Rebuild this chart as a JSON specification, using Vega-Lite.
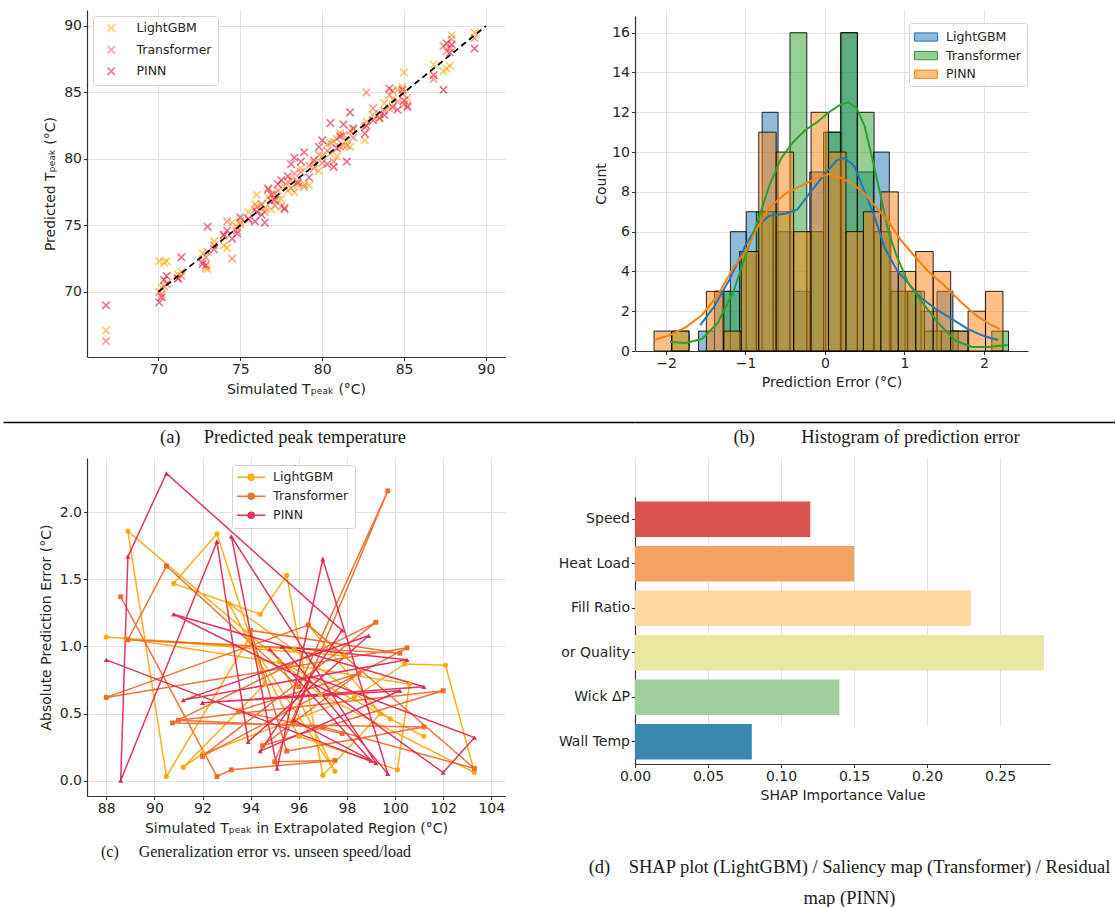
{
  "$schema": "https://vega.github.io/schema/vega-lite/v6.json",
  "background": "white",
  "padding": {"left": 39, "top": 10, "right": 0, "bottom": 0},
  "config": {
    "view": {"stroke": null},
    "font": "DejaVu Sans",
    "axis": {"labelFont": "DejaVu Sans", "titleFont": "DejaVu Sans", "labelFontSize": 14, "titleFontSize": 14, "titleFontWeight": "normal", "labelColor": "#262626", "titleColor": "#262626", "domainColor": "#333333", "domainWidth": 1.2, "tickColor": "#333333", "tickSize": 3.5, "tickWidth": 1, "gridColor": "#e2e2e2", "gridWidth": 1, "labelPadding": 1.5, "titlePadding": 6, "labelFlush": false},
    "legend": {"labelFont": "DejaVu Sans", "labelFontSize": 12.5, "labelColor": "#262626"},
    "title": {"font": "Liberation Serif", "fontSize": 18.5, "fontWeight": "normal", "color": "#1a1a1a"}
  },
  "datasets": {
    "scatter": [
      {"m":"LightGBM","s":66.8,"p":67.1},{"m":"LightGBM","s":70.05,"p":72.3},{"m":"LightGBM","s":70.2,"p":70.3},{"m":"LightGBM","s":70.35,"p":72.2},{"m":"LightGBM","s":70.5,"p":72.3},{"m":"LightGBM","s":71.2,"p":71.3},{"m":"LightGBM","s":71.4,"p":71.5},{"m":"LightGBM","s":72.7,"p":72.9},{"m":"LightGBM","s":72.9,"p":71.8},{"m":"LightGBM","s":73.0,"p":71.7},{"m":"LightGBM","s":73.4,"p":73.8},{"m":"LightGBM","s":74.0,"p":73.5},{"m":"LightGBM","s":74.2,"p":73.3},{"m":"LightGBM","s":74.5,"p":75.2},{"m":"LightGBM","s":74.8,"p":74.9},{"m":"LightGBM","s":75.0,"p":75.3},{"m":"LightGBM","s":75.5,"p":76.0},{"m":"LightGBM","s":75.9,"p":76.6},{"m":"LightGBM","s":76.0,"p":77.3},{"m":"LightGBM","s":76.3,"p":76.5},{"m":"LightGBM","s":76.5,"p":76.3},{"m":"LightGBM","s":76.7,"p":77.1},{"m":"LightGBM","s":76.9,"p":76.2},{"m":"LightGBM","s":77.1,"p":77.4},{"m":"LightGBM","s":77.3,"p":76.9},{"m":"LightGBM","s":77.5,"p":77.0},{"m":"LightGBM","s":77.7,"p":77.9},{"m":"LightGBM","s":77.9,"p":77.6},{"m":"LightGBM","s":78.1,"p":78.4},{"m":"LightGBM","s":78.3,"p":77.5},{"m":"LightGBM","s":78.5,"p":78.0},{"m":"LightGBM","s":78.7,"p":79.3},{"m":"LightGBM","s":78.9,"p":78.1},{"m":"LightGBM","s":79.2,"p":78.0},{"m":"LightGBM","s":79.5,"p":79.7},{"m":"LightGBM","s":79.8,"p":79.1},{"m":"LightGBM","s":80.0,"p":80.2},{"m":"LightGBM","s":80.3,"p":81.1},{"m":"LightGBM","s":80.5,"p":80.4},{"m":"LightGBM","s":80.7,"p":81.3},{"m":"LightGBM","s":80.9,"p":80.2},{"m":"LightGBM","s":81.1,"p":81.9},{"m":"LightGBM","s":81.3,"p":81.0},{"m":"LightGBM","s":81.5,"p":81.4},{"m":"LightGBM","s":81.7,"p":80.9},{"m":"LightGBM","s":81.9,"p":82.2},{"m":"LightGBM","s":82.6,"p":81.4},{"m":"LightGBM","s":82.7,"p":82.8},{"m":"LightGBM","s":83.1,"p":83.3},{"m":"LightGBM","s":83.5,"p":83.0},{"m":"LightGBM","s":83.8,"p":84.2},{"m":"LightGBM","s":84.1,"p":83.8},{"m":"LightGBM","s":84.3,"p":84.5},{"m":"LightGBM","s":84.6,"p":85.2},{"m":"LightGBM","s":84.9,"p":85.4},{"m":"LightGBM","s":85.0,"p":86.5},{"m":"LightGBM","s":85.2,"p":84.6},{"m":"LightGBM","s":86.8,"p":87.1},{"m":"LightGBM","s":87.4,"p":86.6},{"m":"LightGBM","s":87.6,"p":86.8},{"m":"LightGBM","s":87.8,"p":87.0},{"m":"LightGBM","s":87.9,"p":89.3},{"m":"LightGBM","s":89.3,"p":89.5},
      {"m":"Transformer","s":66.8,"p":66.3},{"m":"Transformer","s":70.05,"p":70.0},{"m":"Transformer","s":70.2,"p":69.8},{"m":"Transformer","s":70.35,"p":70.4},{"m":"Transformer","s":70.5,"p":70.6},{"m":"Transformer","s":71.2,"p":71.0},{"m":"Transformer","s":71.4,"p":71.2},{"m":"Transformer","s":72.7,"p":72.3},{"m":"Transformer","s":72.9,"p":72.6},{"m":"Transformer","s":73.0,"p":73.0},{"m":"Transformer","s":73.4,"p":73.5},{"m":"Transformer","s":74.0,"p":74.2},{"m":"Transformer","s":74.2,"p":75.3},{"m":"Transformer","s":74.5,"p":72.5},{"m":"Transformer","s":74.8,"p":74.6},{"m":"Transformer","s":75.0,"p":75.1},{"m":"Transformer","s":75.5,"p":75.4},{"m":"Transformer","s":75.9,"p":76.2},{"m":"Transformer","s":76.0,"p":76.4},{"m":"Transformer","s":76.3,"p":76.6},{"m":"Transformer","s":76.5,"p":76.0},{"m":"Transformer","s":76.7,"p":77.8},{"m":"Transformer","s":76.9,"p":76.8},{"m":"Transformer","s":77.1,"p":76.5},{"m":"Transformer","s":77.3,"p":77.6},{"m":"Transformer","s":77.5,"p":76.4},{"m":"Transformer","s":77.7,"p":76.2},{"m":"Transformer","s":77.9,"p":78.3},{"m":"Transformer","s":78.1,"p":77.8},{"m":"Transformer","s":78.3,"p":78.9},{"m":"Transformer","s":78.5,"p":78.3},{"m":"Transformer","s":78.7,"p":79.0},{"m":"Transformer","s":78.9,"p":77.9},{"m":"Transformer","s":79.2,"p":79.5},{"m":"Transformer","s":79.5,"p":79.3},{"m":"Transformer","s":79.8,"p":80.3},{"m":"Transformer","s":80.0,"p":79.7},{"m":"Transformer","s":80.3,"p":80.6},{"m":"Transformer","s":80.5,"p":81.2},{"m":"Transformer","s":80.7,"p":79.8},{"m":"Transformer","s":80.9,"p":81.5},{"m":"Transformer","s":81.1,"p":80.9},{"m":"Transformer","s":81.3,"p":81.8},{"m":"Transformer","s":81.5,"p":81.0},{"m":"Transformer","s":81.7,"p":82.1},{"m":"Transformer","s":81.9,"p":81.6},{"m":"Transformer","s":82.6,"p":82.4},{"m":"Transformer","s":82.7,"p":85.0},{"m":"Transformer","s":83.1,"p":83.8},{"m":"Transformer","s":83.5,"p":83.4},{"m":"Transformer","s":83.8,"p":83.6},{"m":"Transformer","s":84.1,"p":84.8},{"m":"Transformer","s":84.3,"p":85.1},{"m":"Transformer","s":84.6,"p":84.3},{"m":"Transformer","s":84.9,"p":84.9},{"m":"Transformer","s":85.0,"p":84.1},{"m":"Transformer","s":85.2,"p":84.0},{"m":"Transformer","s":86.8,"p":86.0},{"m":"Transformer","s":87.4,"p":88.5},{"m":"Transformer","s":87.6,"p":88.1},{"m":"Transformer","s":87.8,"p":88.3},{"m":"Transformer","s":87.9,"p":89.0},{"m":"Transformer","s":89.3,"p":89.1},
      {"m":"PINN","s":66.8,"p":69.0},{"m":"PINN","s":70.05,"p":69.2},{"m":"PINN","s":70.2,"p":69.6},{"m":"PINN","s":70.35,"p":70.9},{"m":"PINN","s":70.5,"p":71.2},{"m":"PINN","s":71.2,"p":71.0},{"m":"PINN","s":71.4,"p":72.6},{"m":"PINN","s":72.7,"p":72.1},{"m":"PINN","s":72.9,"p":72.0},{"m":"PINN","s":73.0,"p":74.9},{"m":"PINN","s":73.4,"p":73.2},{"m":"PINN","s":74.0,"p":74.3},{"m":"PINN","s":74.2,"p":74.6},{"m":"PINN","s":74.5,"p":74.0},{"m":"PINN","s":74.8,"p":74.4},{"m":"PINN","s":75.0,"p":75.6},{"m":"PINN","s":75.5,"p":75.5},{"m":"PINN","s":75.9,"p":75.3},{"m":"PINN","s":76.0,"p":76.0},{"m":"PINN","s":76.3,"p":75.8},{"m":"PINN","s":76.5,"p":75.2},{"m":"PINN","s":76.7,"p":77.7},{"m":"PINN","s":76.9,"p":77.3},{"m":"PINN","s":77.1,"p":76.9},{"m":"PINN","s":77.3,"p":78.1},{"m":"PINN","s":77.5,"p":78.4},{"m":"PINN","s":77.7,"p":76.3},{"m":"PINN","s":77.9,"p":78.7},{"m":"PINN","s":78.1,"p":79.6},{"m":"PINN","s":78.3,"p":80.1},{"m":"PINN","s":78.5,"p":78.2},{"m":"PINN","s":78.7,"p":79.8},{"m":"PINN","s":78.9,"p":80.5},{"m":"PINN","s":79.2,"p":78.6},{"m":"PINN","s":79.5,"p":79.9},{"m":"PINN","s":79.8,"p":80.9},{"m":"PINN","s":80.0,"p":81.4},{"m":"PINN","s":80.3,"p":79.6},{"m":"PINN","s":80.5,"p":82.7},{"m":"PINN","s":80.7,"p":79.4},{"m":"PINN","s":80.9,"p":80.8},{"m":"PINN","s":81.1,"p":81.7},{"m":"PINN","s":81.3,"p":82.6},{"m":"PINN","s":81.5,"p":79.8},{"m":"PINN","s":81.7,"p":83.5},{"m":"PINN","s":81.9,"p":82.3},{"m":"PINN","s":82.6,"p":81.9},{"m":"PINN","s":82.7,"p":82.5},{"m":"PINN","s":83.1,"p":82.9},{"m":"PINN","s":83.5,"p":83.1},{"m":"PINN","s":83.8,"p":83.3},{"m":"PINN","s":84.1,"p":85.3},{"m":"PINN","s":84.3,"p":83.9},{"m":"PINN","s":84.6,"p":83.7},{"m":"PINN","s":84.9,"p":85.2},{"m":"PINN","s":85.0,"p":84.4},{"m":"PINN","s":85.2,"p":83.9},{"m":"PINN","s":86.8,"p":86.3},{"m":"PINN","s":87.4,"p":85.2},{"m":"PINN","s":87.6,"p":88.7},{"m":"PINN","s":87.8,"p":88.0},{"m":"PINN","s":87.9,"p":88.6},{"m":"PINN","s":89.3,"p":88.3}
    ],
    "diag": [{"s":70,"p":70},{"s":90,"p":90}],
    "hist": [
      {"m":"LightGBM","x0":-1.59,"x1":-1.39,"c":1},{"m":"LightGBM","x0":-1.39,"x1":-1.19,"c":3},{"m":"LightGBM","x0":-1.19,"x1":-0.99,"c":6},{"m":"LightGBM","x0":-0.99,"x1":-0.79,"c":7},{"m":"LightGBM","x0":-0.79,"x1":-0.59,"c":12},{"m":"LightGBM","x0":-0.59,"x1":-0.39,"c":6},{"m":"LightGBM","x0":-0.39,"x1":-0.19,"c":3},{"m":"LightGBM","x0":-0.19,"x1":0.01,"c":9},{"m":"LightGBM","x0":0.01,"x1":0.21,"c":11},{"m":"LightGBM","x0":0.21,"x1":0.41,"c":16},{"m":"LightGBM","x0":0.41,"x1":0.61,"c":9},{"m":"LightGBM","x0":0.61,"x1":0.81,"c":10},{"m":"LightGBM","x0":0.81,"x1":1.01,"c":4},{"m":"LightGBM","x0":1.01,"x1":1.21,"c":3},{"m":"LightGBM","x0":1.21,"x1":1.41,"c":2},{"m":"LightGBM","x0":1.41,"x1":1.61,"c":3},{"m":"LightGBM","x0":1.61,"x1":1.81,"c":1},
      {"m":"Transformer","x0":-1.92,"x1":-1.709,"c":1},{"m":"Transformer","x0":-1.286,"x1":-1.074,"c":3},{"m":"Transformer","x0":-1.074,"x1":-0.863,"c":5},{"m":"Transformer","x0":-0.863,"x1":-0.651,"c":7},{"m":"Transformer","x0":-0.651,"x1":-0.44,"c":7},{"m":"Transformer","x0":-0.44,"x1":-0.228,"c":16},{"m":"Transformer","x0":-0.228,"x1":-0.017,"c":6},{"m":"Transformer","x0":-0.017,"x1":0.195,"c":11},{"m":"Transformer","x0":0.195,"x1":0.407,"c":16},{"m":"Transformer","x0":0.407,"x1":0.618,"c":12},{"m":"Transformer","x0":0.618,"x1":0.83,"c":6},{"m":"Transformer","x0":0.83,"x1":1.041,"c":3},{"m":"Transformer","x0":1.041,"x1":1.253,"c":3},{"m":"Transformer","x0":1.253,"x1":1.464,"c":1},{"m":"Transformer","x0":1.464,"x1":1.676,"c":1},{"m":"Transformer","x0":2.099,"x1":2.31,"c":1},
      {"m":"PINN","x0":-2.15,"x1":-1.931,"c":1},{"m":"PINN","x0":-1.931,"x1":-1.711,"c":1},{"m":"PINN","x0":-1.492,"x1":-1.272,"c":3},{"m":"PINN","x0":-1.272,"x1":-1.053,"c":1},{"m":"PINN","x0":-1.053,"x1":-0.833,"c":5},{"m":"PINN","x0":-0.833,"x1":-0.614,"c":11},{"m":"PINN","x0":-0.614,"x1":-0.394,"c":10},{"m":"PINN","x0":-0.394,"x1":-0.175,"c":6},{"m":"PINN","x0":-0.175,"x1":0.045,"c":12},{"m":"PINN","x0":0.045,"x1":0.265,"c":10},{"m":"PINN","x0":0.265,"x1":0.484,"c":6},{"m":"PINN","x0":0.484,"x1":0.704,"c":7},{"m":"PINN","x0":0.704,"x1":0.923,"c":8},{"m":"PINN","x0":0.923,"x1":1.143,"c":4},{"m":"PINN","x0":1.143,"x1":1.362,"c":5},{"m":"PINN","x0":1.362,"x1":1.582,"c":4},{"m":"PINN","x0":1.582,"x1":1.801,"c":1},{"m":"PINN","x0":1.801,"x1":2.021,"c":2},{"m":"PINN","x0":2.021,"x1":2.24,"c":3}
    ],
    "kde": [
      {"m":"LightGBM","x":-1.57,"y":1.3},{"m":"LightGBM","x":-1.4,"y":2.2},{"m":"LightGBM","x":-1.2,"y":3.6},{"m":"LightGBM","x":-1.0,"y":5.3},{"m":"LightGBM","x":-0.85,"y":6.3},{"m":"LightGBM","x":-0.7,"y":6.8},{"m":"LightGBM","x":-0.5,"y":6.9},{"m":"LightGBM","x":-0.35,"y":7.1},{"m":"LightGBM","x":-0.2,"y":7.9},{"m":"LightGBM","x":0.0,"y":8.9},{"m":"LightGBM","x":0.15,"y":9.6},{"m":"LightGBM","x":0.25,"y":9.7},{"m":"LightGBM","x":0.37,"y":9.3},{"m":"LightGBM","x":0.5,"y":8.0},{"m":"LightGBM","x":0.62,"y":6.8},{"m":"LightGBM","x":0.75,"y":5.2},{"m":"LightGBM","x":0.9,"y":4.1},{"m":"LightGBM","x":1.05,"y":3.4},{"m":"LightGBM","x":1.2,"y":2.7},{"m":"LightGBM","x":1.4,"y":2.1},{"m":"LightGBM","x":1.6,"y":1.6},{"m":"LightGBM","x":1.8,"y":1.1},{"m":"LightGBM","x":2.0,"y":0.75},{"m":"LightGBM","x":2.18,"y":0.55},
      {"m":"Transformer","x":-1.95,"y":0.45},{"m":"Transformer","x":-1.75,"y":0.4},{"m":"Transformer","x":-1.55,"y":0.6},{"m":"Transformer","x":-1.35,"y":1.4},{"m":"Transformer","x":-1.15,"y":3.0},{"m":"Transformer","x":-1.0,"y":4.8},{"m":"Transformer","x":-0.85,"y":6.5},{"m":"Transformer","x":-0.7,"y":8.3},{"m":"Transformer","x":-0.55,"y":9.7},{"m":"Transformer","x":-0.4,"y":10.5},{"m":"Transformer","x":-0.25,"y":11.1},{"m":"Transformer","x":-0.1,"y":11.5},{"m":"Transformer","x":0.05,"y":12.0},{"m":"Transformer","x":0.2,"y":12.4},{"m":"Transformer","x":0.3,"y":12.5},{"m":"Transformer","x":0.4,"y":12.2},{"m":"Transformer","x":0.5,"y":11.3},{"m":"Transformer","x":0.6,"y":9.6},{"m":"Transformer","x":0.7,"y":7.8},{"m":"Transformer","x":0.8,"y":6.0},{"m":"Transformer","x":0.9,"y":4.8},{"m":"Transformer","x":1.05,"y":3.4},{"m":"Transformer","x":1.25,"y":2.3},{"m":"Transformer","x":1.45,"y":1.3},{"m":"Transformer","x":1.65,"y":0.5},{"m":"Transformer","x":1.85,"y":0.2},{"m":"Transformer","x":2.05,"y":0.2},{"m":"Transformer","x":2.3,"y":0.3},
      {"m":"PINN","x":-2.15,"y":0.55},{"m":"PINN","x":-1.95,"y":0.8},{"m":"PINN","x":-1.75,"y":1.2},{"m":"PINN","x":-1.55,"y":1.8},{"m":"PINN","x":-1.35,"y":2.8},{"m":"PINN","x":-1.15,"y":4.2},{"m":"PINN","x":-1.0,"y":5.0},{"m":"PINN","x":-0.85,"y":6.2},{"m":"PINN","x":-0.7,"y":7.2},{"m":"PINN","x":-0.5,"y":7.9},{"m":"PINN","x":-0.3,"y":8.3},{"m":"PINN","x":-0.1,"y":8.7},{"m":"PINN","x":0.05,"y":8.9},{"m":"PINN","x":0.2,"y":8.7},{"m":"PINN","x":0.35,"y":8.4},{"m":"PINN","x":0.5,"y":7.9},{"m":"PINN","x":0.65,"y":7.2},{"m":"PINN","x":0.8,"y":6.5},{"m":"PINN","x":0.95,"y":5.6},{"m":"PINN","x":1.1,"y":4.9},{"m":"PINN","x":1.3,"y":4.0},{"m":"PINN","x":1.5,"y":3.3},{"m":"PINN","x":1.7,"y":2.5},{"m":"PINN","x":1.9,"y":1.8},{"m":"PINN","x":2.05,"y":1.4},{"m":"PINN","x":2.2,"y":1.1}
    ],
    "gen": [
      {"m":"LightGBM","i":1,"x":88.0,"y":1.07},{"m":"LightGBM","i":2,"x":97.9,"y":0.93},{"m":"LightGBM","i":3,"x":96.4,"y":1.16},{"m":"LightGBM","i":4,"x":99.4,"y":0.5},{"m":"LightGBM","i":5,"x":97.0,"y":0.04},{"m":"LightGBM","i":6,"x":95.5,"y":1.53},{"m":"LightGBM","i":7,"x":94.4,"y":1.24},{"m":"LightGBM","i":8,"x":90.8,"y":1.47},{"m":"LightGBM","i":9,"x":92.6,"y":1.84},{"m":"LightGBM","i":10,"x":94.6,"y":0.72},{"m":"LightGBM","i":11,"x":91.2,"y":0.1},{"m":"LightGBM","i":12,"x":92.0,"y":0.2},{"m":"LightGBM","i":13,"x":98.3,"y":0.62},{"m":"LightGBM","i":14,"x":100.4,"y":0.87},{"m":"LightGBM","i":15,"x":102.1,"y":0.86},{"m":"LightGBM","i":16,"x":103.3,"y":0.06},{"m":"LightGBM","i":17,"x":96.9,"y":0.64},{"m":"LightGBM","i":18,"x":88.9,"y":1.86},{"m":"LightGBM","i":19,"x":90.5,"y":0.03},{"m":"LightGBM","i":20,"x":93.9,"y":1.05},{"m":"LightGBM","i":21,"x":97.5,"y":0.07},{"m":"LightGBM","i":22,"x":95.2,"y":0.89},{"m":"LightGBM","i":23,"x":101.2,"y":0.33},{"m":"LightGBM","i":24,"x":99.8,"y":0.46},{"m":"LightGBM","i":25,"x":93.1,"y":1.32},{"m":"LightGBM","i":26,"x":96.0,"y":0.33},{"m":"LightGBM","i":27,"x":100.1,"y":0.08},{"m":"LightGBM","i":28,"x":100.6,"y":0.72},{"m":"LightGBM","i":29,"x":88.8,"y":1.06},{"m":"LightGBM","i":30,"x":95.8,"y":0.98},
      {"m":"Transformer","i":1,"x":88.6,"y":1.37},{"m":"Transformer","i":2,"x":92.6,"y":0.03},{"m":"Transformer","i":3,"x":93.2,"y":0.08},{"m":"Transformer","i":4,"x":97.5,"y":0.15},{"m":"Transformer","i":5,"x":95.0,"y":0.14},{"m":"Transformer","i":6,"x":99.7,"y":2.16},{"m":"Transformer","i":7,"x":96.0,"y":0.7},{"m":"Transformer","i":8,"x":90.5,"y":1.6},{"m":"Transformer","i":9,"x":88.9,"y":1.05},{"m":"Transformer","i":10,"x":100.2,"y":0.95},{"m":"Transformer","i":11,"x":94.0,"y":1.12},{"m":"Transformer","i":12,"x":95.5,"y":0.22},{"m":"Transformer","i":13,"x":101.2,"y":0.4},{"m":"Transformer","i":14,"x":90.75,"y":0.43},{"m":"Transformer","i":15,"x":99.2,"y":1.18},{"m":"Transformer","i":16,"x":92.0,"y":0.18},{"m":"Transformer","i":17,"x":100.5,"y":0.99},{"m":"Transformer","i":18,"x":88.0,"y":0.62},{"m":"Transformer","i":19,"x":96.4,"y":1.16},{"m":"Transformer","i":20,"x":103.3,"y":0.09},{"m":"Transformer","i":21,"x":97.0,"y":0.4},{"m":"Transformer","i":22,"x":91.0,"y":0.45},{"m":"Transformer","i":23,"x":102.0,"y":0.67},{"m":"Transformer","i":24,"x":94.5,"y":0.26},{"m":"Transformer","i":25,"x":98.5,"y":0.8},{"m":"Transformer","i":26,"x":93.5,"y":0.52},{"m":"Transformer","i":27,"x":97.8,"y":0.35},
      {"m":"PINN","i":1,"x":88.0,"y":0.9},{"m":"PINN","i":2,"x":99.2,"y":0.13},{"m":"PINN","i":3,"x":93.2,"y":1.82},{"m":"PINN","i":4,"x":95.1,"y":0.09},{"m":"PINN","i":5,"x":97.0,"y":1.65},{"m":"PINN","i":6,"x":99.7,"y":0.05},{"m":"PINN","i":7,"x":95.3,"y":1.0},{"m":"PINN","i":8,"x":100.5,"y":0.9},{"m":"PINN","i":9,"x":91.2,"y":0.6},{"m":"PINN","i":10,"x":98.9,"y":1.08},{"m":"PINN","i":11,"x":93.9,"y":0.29},{"m":"PINN","i":12,"x":92.6,"y":1.78},{"m":"PINN","i":13,"x":88.6,"y":0.0},{"m":"PINN","i":14,"x":88.9,"y":1.67},{"m":"PINN","i":15,"x":90.5,"y":2.29},{"m":"PINN","i":16,"x":97.8,"y":1.12},{"m":"PINN","i":17,"x":94.4,"y":0.22},{"m":"PINN","i":18,"x":100.2,"y":0.67},{"m":"PINN","i":19,"x":92.0,"y":0.58},{"m":"PINN","i":20,"x":101.2,"y":0.7},{"m":"PINN","i":21,"x":90.8,"y":1.24},{"m":"PINN","i":22,"x":97.5,"y":0.64},{"m":"PINN","i":23,"x":102.0,"y":0.06},{"m":"PINN","i":24,"x":103.3,"y":0.32},{"m":"PINN","i":25,"x":96.5,"y":0.78},{"m":"PINN","i":26,"x":95.8,"y":0.45},{"m":"PINN","i":27,"x":99.0,"y":0.15},{"m":"PINN","i":28,"x":94.8,"y":0.98}
    ],
    "shap": [
      {"f":"Speed","v":0.12},{"f":"Heat Load","v":0.15},{"f":"Fill Ratio","v":0.23},{"f":"or Quality","v":0.28},{"f":"Wick ΔP","v":0.14},{"f":"Wall Temp","v":0.08}
    ],
    "ln": [{"v":0.5}]
  },
  "columns": 2,
  "align": "each",
  "bounds": "flush",
  "spacing": {"row": 36, "column": 130},
  "resolve": {
    "scale": {"x": "independent", "y": "independent", "color": "independent", "fill": "independent", "stroke": "independent"},
    "legend": {"color": "independent", "fill": "independent", "stroke": "independent"}
  },
  "concat": [
    {
      "width": 418, "height": 347,
      "layer": [
        {
          "data": {"name": "scatter"},
          "mark": {"type": "point", "shape": "M-1,-1L1,1M-1,1L1,-1", "filled": false, "strokeWidth": 1.6, "opacity": 0.6, "size": 55},
          "encoding": {
            "x": {"field": "s", "type": "quantitative", "title": "Simulated Tₚₑₐₖ (°C)", "scale": {"domain": [65.64, 91.16], "nice": false, "zero": false}, "axis": {"values": [70, 75, 80, 85, 90]}},
            "y": {"field": "p", "type": "quantitative", "title": "Predicted Tₚₑₐₖ (°C)", "scale": {"domain": [65.1, 91.2], "nice": false, "zero": false}, "axis": {"values": [70, 75, 80, 85, 90], "labelPadding": 2}},
            "color": {"field": "m", "type": "nominal", "scale": {"domain": ["LightGBM", "Transformer", "PINN"], "range": ["#FFA500", "#FF6347", "#DC143C"]},
              "legend": {"title": null, "orient": "top-left", "offset": 6, "padding": 6, "fillColor": "white", "strokeColor": "#d3d3d3", "cornerRadius": 3, "symbolType": "M-1,-1L1,1M-1,1L1,-1", "symbolSize": 55, "symbolStrokeWidth": 1.6, "symbolOffset": 6, "labelOffset": 19, "rowPadding": 6.5, "labelFontSize": 12.5}}
          }
        },
        {
          "data": {"name": "diag"},
          "mark": {"type": "line", "color": "black", "strokeDash": [6, 4], "strokeWidth": 1.8},
          "encoding": {
            "x": {"field": "s", "type": "quantitative", "title": "Simulated Tₚₑₐₖ (°C)"},
            "y": {"field": "p", "type": "quantitative", "title": "Predicted Tₚₑₐₖ (°C)"}
          }
        }
      ]
    },
    {
      "width": 393, "height": 341,
      "layer": [
        {
          "data": {"name": "hist"},
          "mark": {"type": "rect", "fillOpacity": 0.5, "stroke": "black", "strokeWidth": 1, "strokeOpacity": 0.85},
          "encoding": {
            "x": {"field": "x0", "type": "quantitative", "title": "Prediction Error (°C)", "scale": {"domain": [-2.39, 2.555], "nice": false, "zero": false}, "axis": {"values": [-2, -1, 0, 1, 2], "format": "d", "titlePadding": 5}},
            "x2": {"field": "x1"},
            "y": {"field": "c", "type": "quantitative", "title": "Count", "scale": {"domain": [0, 16.84], "nice": false, "range": [341, 6]}, "axis": {"values": [0, 2, 4, 6, 8, 10, 12, 14, 16], "titlePadding": 3, "labelPadding": 2}},
            "y2": {"datum": 0},
            "fill": {"field": "m", "type": "nominal", "scale": {"domain": ["LightGBM", "Transformer", "PINN"], "range": ["#1f77b4", "#2ca02c", "#ff7f0e"]},
              "legend": {"title": null, "orient": "none", "legendX": 274, "legendY": 13, "padding": 5, "fillColor": "white", "strokeColor": "#d3d3d3", "cornerRadius": 3, "symbolType": "M-1.4,-0.5H1.4V0.5H-1.4Z", "symbolSize": 269, "symbolOffset": 3, "labelOffset": 11, "rowPadding": 2.6, "labelFontSize": 12.5, "symbolStrokeColor": "black", "symbolStrokeWidth": 1,
                "encode": {"symbols": {"update": {"fillOpacity": {"value": 0.5}, "stroke": {"value": "black"}, "strokeWidth": {"value": 1}}}}}}
          }
        },
        {
          "data": {"name": "kde"},
          "mark": {"type": "line", "strokeWidth": 2},
          "encoding": {
            "x": {"field": "x", "type": "quantitative", "title": "Prediction Error (°C)"},
            "y": {"field": "y", "type": "quantitative", "title": "Count"},
            "stroke": {"field": "m", "type": "nominal", "scale": {"domain": ["LightGBM", "Transformer", "PINN"], "range": ["#1f77b4", "#2ca02c", "#ff7f0e"]}, "legend": null}
          }
        }
      ]
    },
    {
      "width": 418, "height": 29,
      "data": {"name": "ln"},
      "mark": {"type": "point", "opacity": 0},
      "encoding": {
        "x": {"field": "v", "type": "quantitative", "scale": {"domain": [0, 1], "range": [-84, 548]}, "axis": {"grid": false, "ticks": false, "labels": false, "title": null, "domainColor": "#000000", "domainWidth": 1.5}}
      },
      "title": {"text": "(a)\u00a0\u00a0\u00a0\u00a0\u00a0Predicted peak temperature", "orient": "bottom", "anchor": "middle", "dx": -13, "offset": 6}
    },
    {
      "width": 415, "height": 29,
      "data": {"name": "ln"},
      "mark": {"type": "point", "opacity": 0},
      "encoding": {
        "x": {"field": "v", "type": "quantitative", "scale": {"domain": [0, 1], "range": [0, 480]}, "axis": {"grid": false, "ticks": false, "labels": false, "title": null, "domainColor": "#000000", "domainWidth": 1.5}}
      },
      "title": {"text": "(b)\u00a0\u00a0\u00a0\u00a0\u00a0\u00a0\u00a0\u00a0\u00a0\u00a0Histogram of prediction error", "orient": "bottom", "anchor": "middle", "dx": 34, "offset": 6}
    },
    {
      "width": 418, "height": 338,
      "data": {"name": "gen"},
      "layer": [
        {
          "mark": {"type": "line", "strokeWidth": 1.5, "opacity": 0.9},
          "encoding": {
            "x": {"field": "x", "type": "quantitative", "title": "Simulated Tₚₑₐₖ in Extrapolated Region (°C)", "scale": {"domain": [87.2, 104.57], "nice": false, "zero": false}, "axis": {"values": [88, 90, 92, 94, 96, 98, 100, 102, 104]}},
            "y": {"field": "y", "type": "quantitative", "title": "Absolute Prediction Error (°C)", "scale": {"domain": [-0.115, 2.405], "nice": false, "zero": false}, "axis": {"values": [0, 0.5, 1, 1.5, 2], "format": ".1f", "labelPadding": 2}},
            "color": {"field": "m", "type": "nominal", "scale": {"domain": ["LightGBM", "Transformer", "PINN"], "range": ["#FFA500", "#F26522", "#E0204A"]},
              "legend": {"title": null, "orient": "none", "legendX": 145, "legendY": 7, "padding": 6, "fillColor": "white", "strokeColor": "#d3d3d3", "cornerRadius": 3, "symbolType": "M-3,0H3M0.65,0A0.65,0.65,0,1,1,-0.65,0A0.65,0.65,0,1,1,0.65,0Z", "symbolSize": 90, "symbolStrokeWidth": 1.5, "symbolOffset": 7, "labelOffset": 15.6, "rowPadding": 6, "labelFontSize": 12.5}},
            "order": {"field": "i", "type": "quantitative"}
          }
        },
        {
          "transform": [{"filter": "datum.m === 'LightGBM'"}],
          "mark": {"type": "point", "shape": "circle", "filled": true, "size": 26, "opacity": 0.95},
          "encoding": {
            "x": {"field": "x", "type": "quantitative", "title": "Simulated Tₚₑₐₖ in Extrapolated Region (°C)"},
            "y": {"field": "y", "type": "quantitative", "title": "Absolute Prediction Error (°C)"},
            "color": {"field": "m", "type": "nominal"}
          }
        },
        {
          "transform": [{"filter": "datum.m === 'Transformer'"}],
          "mark": {"type": "point", "shape": "square", "filled": true, "size": 24, "opacity": 0.95},
          "encoding": {
            "x": {"field": "x", "type": "quantitative", "title": "Simulated Tₚₑₐₖ in Extrapolated Region (°C)"},
            "y": {"field": "y", "type": "quantitative", "title": "Absolute Prediction Error (°C)"},
            "color": {"field": "m", "type": "nominal"}
          }
        },
        {
          "transform": [{"filter": "datum.m === 'PINN'"}],
          "mark": {"type": "point", "shape": "triangle-up", "filled": true, "size": 26, "opacity": 0.95},
          "encoding": {
            "x": {"field": "x", "type": "quantitative", "title": "Simulated Tₚₑₐₖ in Extrapolated Region (°C)"},
            "y": {"field": "y", "type": "quantitative", "title": "Absolute Prediction Error (°C)"},
            "color": {"field": "m", "type": "nominal"}
          }
        }
      ],
      "title": {"text": "(c)\u00a0\u00a0\u00a0\u00a0\u00a0Generalization error vs. unseen speed/load", "orient": "bottom", "anchor": "middle", "dx": -40, "offset": 9, "fontSize": 16}
    },
    {
      "width": 415, "height": 306,
      "data": {"name": "shap"},
      "mark": {"type": "bar"},
      "encoding": {
        "y": {"field": "f", "type": "nominal", "sort": null, "title": null, "scale": {"paddingInner": 0.2, "paddingOuter": 0.1, "range": [39, 306]}, "axis": {"labelPadding": 2, "ticks": true, "grid": false, "labelLimit": 300}},
        "x": {"field": "v", "type": "quantitative", "title": "SHAP Importance Value", "scale": {"domain": [0, 0.2842], "nice": false}, "axis": {"values": [0, 0.05, 0.1, 0.15, 0.2, 0.25], "format": ".2f", "titlePadding": 5}},
        "color": {"field": "f", "type": "nominal", "sort": null, "scale": {"domain": ["Speed", "Heat Load", "Fill Ratio", "or Quality", "Wick ΔP", "Wall Temp"], "range": ["#d9534f", "#f3a261", "#fbd9a0", "#e9e7a2", "#a2cf9e", "#3b88ad"]}, "legend": null}
      },
      "title": {"text": ["(d)\u00a0\u00a0\u00a0\u00a0SHAP plot (LightGBM) / Saliency map (Transformer) / Residual", "map (PINN)"], "orient": "bottom", "anchor": "middle", "dx": 7, "offset": 56, "lineHeight": 31}
    }
  ]
}
